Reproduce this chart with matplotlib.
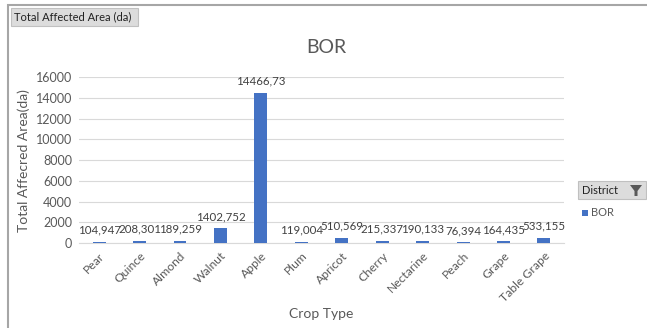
import matplotlib.pyplot as plt
from matplotlib.patches import Rectangle, Polygon

crops = ["Pear", "Quince", "Almond", "Walnut", "Apple", "Plum", "Apricot",
         "Cherry", "Nectarine", "Peach", "Grape", "Table Grape"]
area = [104.947, 208.301, 189.259, 1402.752, 14466.73, 119.004, 510.569,
        215.337, 190.133, 76.394, 164.435, 533.155]
labels = ["104,947", "208,301", "189,259", "1402,752", "14466,73", "119,004",
          "510,569", "215,337", "190,133", "76,394", "164,435", "533,155"]
yticks = [0, 2000, 4000, 6000, 8000, 10000, 12000, 14000, 16000]

plt.rcParams["font.family"] = ["Lato", "DejaVu Sans"]
gray = "#595959"
blue = "#4472C4"

fig = plt.figure(figsize=(6.47, 3.28), dpi=100)
ax = fig.add_axes([0.122, 0.259, 0.750, 0.506])

x = range(len(crops))
ax.bar(x, area, width=0.32, color=blue, zorder=3)
for i, (v, t) in enumerate(zip(area, labels)):
    ax.text(i, v + 600, t, ha="center", va="bottom", fontsize=8.3, color="#404040")

ax.set_xlim(-0.5, len(crops) - 0.5)
ax.set_ylim(0, 16000)
ax.set_yticks(yticks)
ax.set_yticklabels([str(v) for v in yticks], fontsize=9, color=gray)
ax.set_xticks(list(x))
ax.set_xticklabels(crops, rotation=45, ha="right", rotation_mode="anchor",
                   fontsize=8.7, color=gray)
ax.tick_params(length=0, pad=5)
ax.grid(axis="y", color="#d9d9d9", linewidth=0.8, zorder=0)
for s in ["top", "right", "left"]:
    ax.spines[s].set_visible(False)
ax.spines["bottom"].set_color("#d9d9d9")
ax.set_ylabel("Total Affecred Area(da)", fontsize=10, color=gray, labelpad=4)
ax.set_xlabel("Crop Type", fontsize=10, color=gray, labelpad=3)
fig.text(0.505, 0.855, "BOR", fontsize=14, color=gray, ha="center", va="center")

# outer frame
fig.add_artist(Rectangle((8 / 647, -0.01), 1.0, 1 - 5 / 328 + 0.01,
                         transform=fig.transFigure, fill=False,
                         edgecolor="#a6a6a6", linewidth=1.5))
# field button top-left
fig.add_artist(Rectangle((11 / 647, 1 - 26 / 328), 127 / 647, 18 / 328,
                         transform=fig.transFigure, facecolor="#dcdcdc",
                         edgecolor="#c0c0c0", linewidth=0.8))
fig.text(14 / 647, 1 - 17 / 328, "Total Affected Area (da)", fontsize=8,
         color="#222222", va="center")

# legend / district button
fig.add_artist(Rectangle((578 / 647, 1 - 199 / 328), 68 / 647, 18 / 328,
                         transform=fig.transFigure, facecolor="#dcdcdc",
                         edgecolor="#c0c0c0", linewidth=0.8))
fig.text(582 / 647, 1 - 190 / 328, "District", fontsize=8, color="#222222",
         va="center")
fig.add_artist(Polygon([(630 / 647, 1 - 185 / 328), (642 / 647, 1 - 185 / 328),
                        (637.5 / 647, 1 - 191 / 328), (637.5 / 647, 1 - 196 / 328),
                        (634.5 / 647, 1 - 196 / 328), (634.5 / 647, 1 - 191 / 328)],
                       closed=True, transform=fig.transFigure,
                       facecolor="#595959", edgecolor="none"))
fig.add_artist(Rectangle((582 / 647, 1 - 216 / 328), 6 / 647, 6 / 328,
                         transform=fig.transFigure, facecolor=blue,
                         edgecolor="none"))
fig.text(591 / 647, 1 - 212.5 / 328, "BOR", fontsize=8, color=gray, va="center")

fig.savefig("out.png", dpi=100)
